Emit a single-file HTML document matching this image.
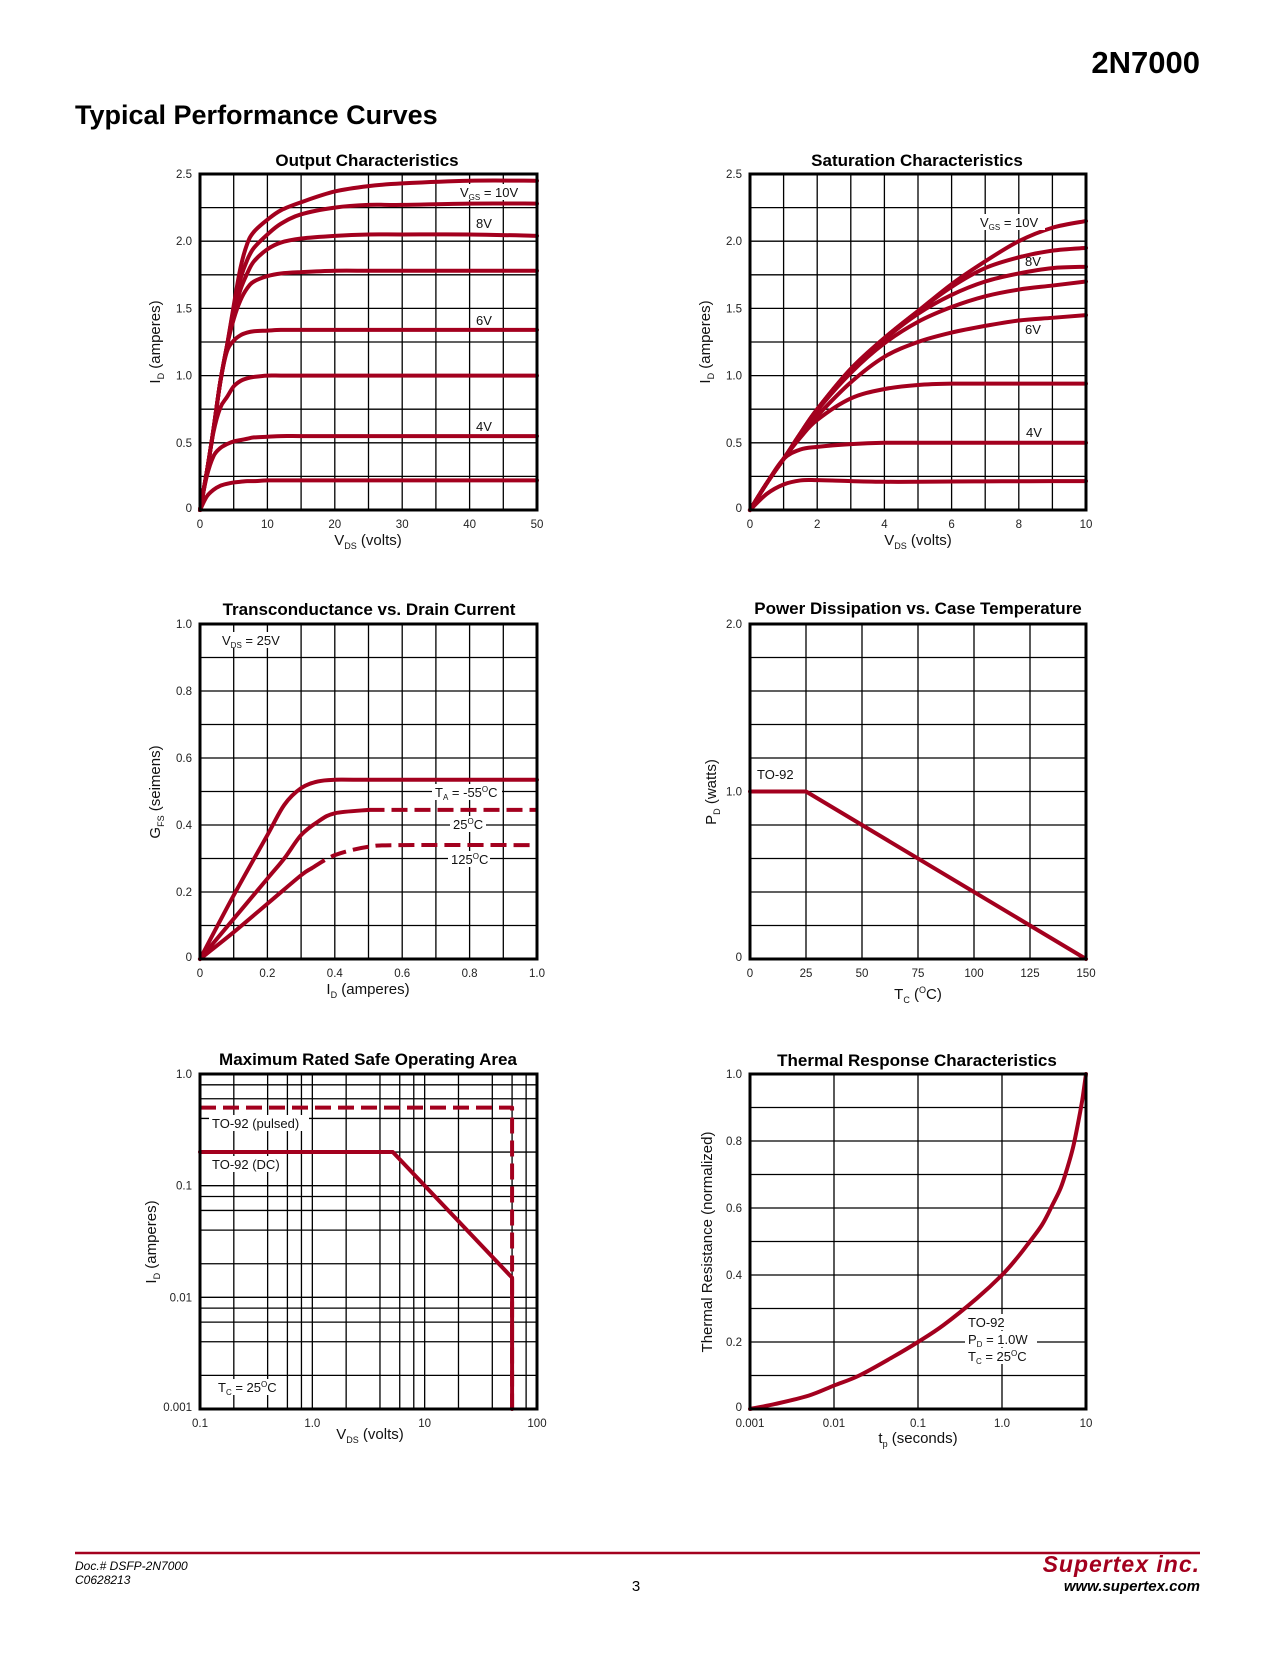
<!DOCTYPE html>
<html><head><meta charset="utf-8">
<style>
html,body{margin:0;padding:0;background:#fff;}
body{width:1275px;height:1650px;position:relative;overflow:hidden;font-family:"Liberation Sans",Arial,sans-serif;}
svg text{font-family:"Liberation Sans",Arial,sans-serif;}
</style></head>
<body>
<svg id="page" width="1275" height="1650" viewBox="0 0 1275 1650" xmlns="http://www.w3.org/2000/svg">
<text x="1200" y="73" text-anchor="end" font-size="31" font-weight="bold">2N7000</text>
<text x="75" y="124" font-size="27" font-weight="bold">Typical Performance Curves</text>

<text x="367" y="166" text-anchor="middle" font-size="17" font-weight="bold">Output Characteristics</text>
<text x="917" y="166" text-anchor="middle" font-size="17" font-weight="bold">Saturation Characteristics</text>
<text x="369" y="615" text-anchor="middle" font-size="17" font-weight="bold">Transconductance vs. Drain Current</text>
<text x="918" y="614" text-anchor="middle" font-size="17" font-weight="bold">Power Dissipation vs. Case Temperature</text>
<text x="368" y="1065" text-anchor="middle" font-size="17" font-weight="bold">Maximum Rated Safe Operating Area</text>
<text x="917" y="1066" text-anchor="middle" font-size="17" font-weight="bold">Thermal Response Characteristics</text>

<g id="c1"></g>
<g id="c2"></g>
<g id="c3"></g>
<g id="c4"></g>
<g id="c5"></g>
<g id="c6"></g>

<g font-size="15" fill="#111">
<text transform="translate(160,342) rotate(-90)" text-anchor="middle">I<tspan font-size="9" dy="4">D</tspan><tspan dy="-4"> (amperes)</tspan></text>
<text x="368" y="545" text-anchor="middle">V<tspan font-size="9" dy="4">DS</tspan><tspan dy="-4"> (volts)</tspan></text>
<text transform="translate(710,342) rotate(-90)" text-anchor="middle">I<tspan font-size="9" dy="4">D</tspan><tspan dy="-4"> (amperes)</tspan></text>
<text x="918" y="545" text-anchor="middle">V<tspan font-size="9" dy="4">DS</tspan><tspan dy="-4"> (volts)</tspan></text>
<text transform="translate(160,792) rotate(-90)" text-anchor="middle">G<tspan font-size="9" dy="4">FS</tspan><tspan dy="-4"> (seimens)</tspan></text>
<text x="368" y="994" text-anchor="middle">I<tspan font-size="9" dy="4">D</tspan><tspan dy="-4"> (amperes)</tspan></text>
<text transform="translate(716,792) rotate(-90)" text-anchor="middle">P<tspan font-size="9" dy="4">D</tspan><tspan dy="-4"> (watts)</tspan></text>
<text x="918" y="999" text-anchor="middle">T<tspan font-size="9" dy="4">C</tspan><tspan dy="-4"> (</tspan><tspan font-size="9" dy="-6">O</tspan><tspan dy="6">C)</tspan></text>
<text transform="translate(156,1242) rotate(-90)" text-anchor="middle">I<tspan font-size="9" dy="4">D</tspan><tspan dy="-4"> (amperes)</tspan></text>
<text x="370" y="1439" text-anchor="middle">V<tspan font-size="9" dy="4">DS</tspan><tspan dy="-4"> (volts)</tspan></text>
<text transform="translate(712,1242) rotate(-90)" text-anchor="middle">Thermal Resistance (normalized)</text>
<text x="918" y="1443" text-anchor="middle">t<tspan font-size="9" dy="4">p</tspan><tspan dy="-4"> (seconds)</tspan></text>
</g>

<g id="labels" font-size="13" fill="#111"></g>

<line x1="75" y1="1553" x2="1200" y2="1553" stroke="#a3001e" stroke-width="2.5"/>
<text x="75" y="1570" font-size="12" font-style="italic">Doc.# DSFP-2N7000</text>
<text x="75" y="1584" font-size="12" font-style="italic">C0628213</text>
<text x="636" y="1591" text-anchor="middle" font-size="15">3</text>
<text x="1200" y="1572" text-anchor="end" font-size="23" font-weight="bold" font-style="italic" fill="#a3001e" letter-spacing="1">Supertex inc.</text>
<text x="1200" y="1591" text-anchor="end" font-size="15" font-weight="bold" font-style="italic">www.supertex.com</text>
</svg>

<script>
// ---------- data ----------
const outVds = [0,1,2,3,4,5,6,7,8,10,12,15,20,25,30,40,50];
const outId10 = [0,0.28,0.6,0.95,1.22,1.52,1.8,1.98,2.07,2.16,2.23,2.29,2.37,2.41,2.43,2.45,2.45];
const outId9  = [0,0.28,0.6,0.95,1.22,1.5,1.72,1.86,1.95,2.05,2.13,2.2,2.25,2.27,2.27,2.28,2.28];
const outId8  = [0,0.28,0.6,0.95,1.22,1.46,1.64,1.76,1.85,1.94,1.99,2.02,2.04,2.05,2.05,2.05,2.04];
const outId7  = [0,0.28,0.6,0.95,1.22,1.42,1.56,1.65,1.7,1.74,1.76,1.77,1.78,1.78,1.78,1.78,1.78];
const outId6  = [0,0.28,0.6,0.95,1.18,1.26,1.3,1.32,1.33,1.335,1.34,1.34,1.34,1.34,1.34,1.34,1.34];
const outId5  = [0,0.28,0.58,0.76,0.84,0.92,0.96,0.98,0.99,1.0,1.0,1.0,1.0,1.0,1.0,1.0,1.0];
const outId4  = [0,0.25,0.4,0.46,0.49,0.51,0.52,0.53,0.54,0.545,0.55,0.55,0.55,0.55,0.55,0.55,0.55];
const outId3  = [0,0.1,0.15,0.18,0.195,0.205,0.21,0.215,0.215,0.22,0.22,0.22,0.22,0.22,0.22,0.22,0.22];
const outXTicks = ['0','10','20','30','40','50'];
const outYTicks = ['0','0.5','1.0','1.5','2.0','2.5'];

const satVds = [0,0.5,1,1.5,2,3,4,5,6,7,8,9,10];
const satId10 = [0,0.2,0.38,0.57,0.75,1.05,1.28,1.48,1.68,1.85,2.0,2.1,2.15];
const satId9  = [0,0.2,0.38,0.57,0.75,1.05,1.28,1.48,1.66,1.8,1.88,1.93,1.95];
const satId8  = [0,0.2,0.38,0.57,0.75,1.04,1.27,1.46,1.6,1.7,1.76,1.8,1.81];
const satId7  = [0,0.2,0.38,0.56,0.74,1.02,1.24,1.4,1.51,1.59,1.64,1.67,1.7];
const satId6  = [0,0.2,0.38,0.55,0.7,0.95,1.14,1.25,1.32,1.37,1.41,1.43,1.45];
const satId5  = [0,0.2,0.38,0.54,0.67,0.83,0.9,0.93,0.94,0.94,0.94,0.94,0.94];
const satId4  = [0,0.2,0.38,0.45,0.47,0.49,0.5,0.5,0.5,0.5,0.5,0.5,0.5];
const satId3  = [0,0.12,0.19,0.22,0.222,0.215,0.21,0.21,0.212,0.213,0.214,0.215,0.215];
const satXTicks = ['0','2','4','6','8','10'];
const satYTicks = ['0','0.5','1.0','1.5','2.0','2.5'];

const gfsIdM55 = [0,0.1,0.2,0.25,0.3,0.35,0.4,0.5,1.0];
const gfsM55   = [0,0.19,0.37,0.46,0.51,0.53,0.535,0.535,0.535];
const gfsId25  = [0,0.1,0.2,0.25,0.3,0.35,0.4,0.5];
const gfs25    = [0,0.12,0.24,0.3,0.37,0.41,0.435,0.445];
const gfsId25d = [0.5,1.0];
const gfs25d   = [0.445,0.445];
const gfsId125 = [0,0.1,0.2,0.3,0.33];
const gfs125   = [0,0.08,0.165,0.25,0.27];
const gfsId125d = [0.33,0.4,0.5,0.6,1.0];
const gfs125d   = [0.27,0.31,0.335,0.34,0.34];
const gfsXTicks = ['0','0.2','0.4','0.6','0.8','1.0'];
const gfsYTicks = ['0','0.2','0.4','0.6','0.8','1.0'];

const pdTc = [0,25,150];
const pdW  = [1.0,1.0,0];
const pdXTicks = ['0','25','50','75','100','125','150'];
const pdYTicks = ['0','1.0','2.0'];

const soaPulsedV = [0.1,60,60];
const soaPulsedI = [0.5,0.5,0.001];
const soaDcV = [0.1,5.2,60,60];
const soaDcI = [0.2,0.2,0.015,0.001];
const soaXTicks = ['0.1','1.0','10','100'];
const soaYTicks = ['0.001','0.01','0.1','1.0'];

const thT = [0.001,0.002,0.005,0.01,0.02,0.05,0.1,0.2,0.5,1,1.5,2,3,4,5,6,7,8,9,9.5,10];
const thR = [0,0.015,0.04,0.07,0.1,0.155,0.2,0.25,0.33,0.4,0.45,0.49,0.55,0.61,0.66,0.72,0.78,0.85,0.92,0.96,1.0];
const thXTicks = ['0.001','0.01','0.1','1.0','10'];
const thYTicks = ['0','0.2','0.4','0.6','0.8','1.0'];

// ---------- drawing ----------
const NS='http://www.w3.org/2000/svg';
const RED='#a3001e';
function el(tag, attrs, parent){const e=document.createElementNS(NS,tag);for(const k in attrs)e.setAttribute(k,attrs[k]);parent.appendChild(e);return e;}

function makeAxes(c){
  c.sx = v => c.L + (c.xlog ? (Math.log10(v)-Math.log10(c.xmin))/(Math.log10(c.xmax)-Math.log10(c.xmin)) : (v-c.xmin)/(c.xmax-c.xmin))*(c.R-c.L);
  c.sy = v => c.B - (c.ylog ? (Math.log10(v)-Math.log10(c.ymin))/(Math.log10(c.ymax)-Math.log10(c.ymin)) : (v-c.ymin)/(c.ymax-c.ymin))*(c.B-c.T);
  return c;
}
function gridLines(c, g){
  const xs=[], ys=[];
  if(c.xlog){for(let d=Math.log10(c.xmin);d<Math.log10(c.xmax)-0.01;d++){const b=Math.pow(10,d);xs.push(b);(c.minor||[]).forEach(m=>xs.push(b*m));}}
  else for(let i=1;i<c.nx;i++)xs.push(c.xmin+i*(c.xmax-c.xmin)/c.nx);
  if(c.ylog){for(let d=Math.log10(c.ymin);d<Math.log10(c.ymax)-0.01;d++){const b=Math.pow(10,d);ys.push(b);(c.minor||[]).forEach(m=>ys.push(b*m));}}
  else for(let i=1;i<c.ny;i++)ys.push(c.ymin+i*(c.ymax-c.ymin)/c.ny);
  xs.forEach(v=>{const x=c.sx(v);if(x<=c.L+1)return;
    const ln=el('line',{x1:x,y1:c.T,x2:x,y2:c.B,stroke:'#000','stroke-width':1.3},g);
    
    });
  ys.forEach(v=>{const y=c.sy(v);if(y>=c.B-1)return;
    const ln=el('line',{x1:c.L,y1:y,x2:c.R,y2:y,stroke:'#000','stroke-width':1.3},g);
    
    });
}
function frame(c,g){
  const r=el('rect',{x:c.L,y:c.T,width:c.R-c.L,height:c.B-c.T,fill:'none',stroke:'#000','stroke-width':3},g);
  
  
}
function ticks(c,g,xt,yt){
  xt.forEach((t,i)=>{const v=c.xlog?Math.pow(10,Math.log10(c.xmin)+i):c.xmin+i*(c.xmax-c.xmin)/(xt.length-1);
    const tx=el('text',{x:c.sx(v),y:c.B+18,'text-anchor':'middle','font-size':11.5,fill:'#222'},g);tx.textContent=t;
    
    });
  yt.forEach((t,i)=>{const v=c.ylog?Math.pow(10,Math.log10(c.ymin)+i):c.ymin+i*(c.ymax-c.ymin)/(yt.length-1);
    const ty=el('text',{x:c.L-8,y:c.sy(v)+(i==0?2:4),'text-anchor':'end','font-size':11.5,fill:'#222'},g);ty.textContent=t;
    
    });
}
function smoothPath(pts){
  if(pts.length<3)return 'M'+pts.map(p=>p.join(',')).join('L');
  let d='M'+pts[0][0]+','+pts[0][1];
  for(let i=0;i<pts.length-1;i++){
    const p0=pts[Math.max(0,i-1)],p1=pts[i],p2=pts[i+1],p3=pts[Math.min(pts.length-1,i+2)];
    const c1x=p1[0]+(p2[0]-p0[0])/6,c1y=p1[1]+(p2[1]-p0[1])/6;
    const c2x=p2[0]-(p3[0]-p1[0])/6,c2y=p2[1]-(p3[1]-p1[1])/6;
    d+=' C'+c1x+','+c1y+' '+c2x+','+c2y+' '+p2[0]+','+p2[1];
  }
  return d;
}
function curve(c,g,xs,ys,name,opts){
  opts=opts||{};
  const pts=xs.map((x,i)=>[c.sx(x),c.sy(ys[i])]);
  const d=opts.straight?'M'+pts.map(p=>p.join(',')).join('L'):smoothPath(pts);
  const p=el('path',{d:d,fill:'none',stroke:RED,'stroke-width':opts.w||4,'stroke-linejoin':'round','stroke-linecap':opts.dash?'butt':'round'},g);
  if(opts.dash)p.setAttribute('stroke-dasharray',opts.dash);
  
  
}
function chart(id,c,xt,yt,series){
  const g=document.getElementById(id);makeAxes(c);
  const bg=el('rect',{x:c.L,y:c.T,width:c.R-c.L,height:c.B-c.T,fill:'#fff'},g);
  
  
  gridLines(c,g);
  series(c,g);
  frame(c,g);ticks(c,g,xt,yt);
  return c;
}

chart('c1',{L:200,R:537,T:174,B:510,xmin:0,xmax:50,ymin:0,ymax:2.5,nx:10,ny:10},outXTicks,outYTicks,(c,g)=>{
  [outId3,outId4,outId5,outId6,outId7,outId8,outId9,outId10].forEach((ys,i)=>curve(c,g,outVds,ys,'curve-vgs-'+(i+3)+'v'));
});
chart('c2',{L:750,R:1086,T:174,B:510,xmin:0,xmax:10,ymin:0,ymax:2.5,nx:10,ny:10},satXTicks,satYTicks,(c,g)=>{
  [satId3,satId4,satId5,satId6,satId7,satId8,satId9,satId10].forEach((ys,i)=>curve(c,g,satVds,ys,'curve-vgs-'+(i+3)+'v'));
});
chart('c3',{L:200,R:537,T:624,B:959,xmin:0,xmax:1,ymin:0,ymax:1,nx:10,ny:10},gfsXTicks,gfsYTicks,(c,g)=>{
  curve(c,g,gfsIdM55,gfsM55,'curve-minus55c');
  curve(c,g,gfsId25,gfs25,'curve-25c');
  curve(c,g,gfsId25d,gfs25d,'curve-25c-dashed',{dash:'16,7',straight:true});
  curve(c,g,gfsId125,gfs125,'curve-125c');
  curve(c,g,gfsId125d,gfs125d,'curve-125c-dashed',{dash:'16,7'});
});
chart('c4',{L:750,R:1086,T:624,B:959,xmin:0,xmax:150,ymin:0,ymax:2,nx:6,ny:10},pdXTicks,pdYTicks,(c,g)=>{
  curve(c,g,pdTc,pdW,'power-derating-line',{straight:true});
});
chart('c5',{L:200,R:537,T:1074,B:1409,xlog:true,ylog:true,xmin:0.1,xmax:100,ymin:0.001,ymax:1,minor:[2,4,6,8]},soaXTicks,soaYTicks,(c,g)=>{
  curve(c,g,soaDcV,soaDcI,'soa-dc-line',{straight:true});
  curve(c,g,soaPulsedV,soaPulsedI,'soa-pulsed-line',{straight:true,dash:'16,7'});
});
chart('c6',{L:750,R:1086,T:1074,B:1409,xlog:true,xmin:0.001,xmax:10,ymin:0,ymax:1,ny:10},thXTicks,thYTicks,(c,g)=>{
  curve(c,g,thT,thR,'thermal-response-curve');
});

// ---------- in-plot labels ----------
const lab=document.getElementById('labels');
function label(name,x,y,html,w,h){
  if(w){const r=el('rect',{x:x-3,y:y-h+3,width:w,height:h,fill:'#fff'},lab);
    
    }
  const t=el('text',{x:x,y:y},lab);t.innerHTML=html;
  
  
}
const SUB=(s)=>'<tspan font-size="8" dy="3">'+s+'</tspan><tspan dy="-3">';
label('output-label-10v',460,197,'V'+SUB('GS')+' = 10V</tspan>',68,16);
label('output-label-8v',476,228,'8V');
label('output-label-6v',476,325,'6V');
label('output-label-4v',476,431,'4V');
label('saturation-label-10v',980,227,'V'+SUB('GS')+' = 10V</tspan>',68,16);
label('saturation-label-8v',1025,266,'8V');
label('saturation-label-6v',1025,334,'6V');
label('saturation-label-4v',1026,437,'4V');
label('vds-condition',222,645,'V'+SUB('DS')+' = 25V</tspan>',62,16);
label('label-minus55c',435,797,'T'+SUB('A')+' = -55</tspan><tspan font-size="8" dy="-5">O</tspan><tspan dy="5">C</tspan>',70,16);
label('label-25c',453,829,'25<tspan font-size="8" dy="-5">O</tspan><tspan dy="5">C</tspan>',36,16);
label('label-125c',451,864,'125<tspan font-size="8" dy="-5">O</tspan><tspan dy="5">C</tspan>',42,16);
label('power-package-label',757,779,'TO-92');
label('soa-pulsed-label',212,1128,'TO-92 (pulsed)',100,16);
label('soa-dc-label',212,1169,'TO-92 (DC)',72,16);
label('soa-tc-label',218,1392,'T'+SUB('C')+' = 25</tspan><tspan font-size="8" dy="-5">O</tspan><tspan dy="5">C</tspan>',58,16);
label('thermal-package-label',968,1327,'TO-92',70,16);
label('thermal-pd-label',968,1344,'P'+SUB('D')+' = 1.0W</tspan>',72,16);
label('thermal-tc-label',968,1361,'T'+SUB('C')+' = 25</tspan><tspan font-size="8" dy="-5">O</tspan><tspan dy="5">C</tspan>',62,16);
</script>
</body></html>
